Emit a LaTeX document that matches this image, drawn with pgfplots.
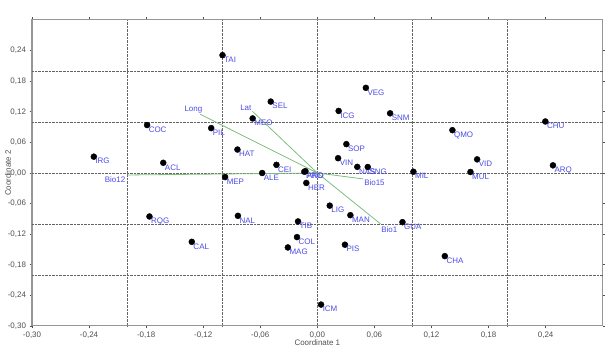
\documentclass[border=0pt]{standalone}
\usepackage{fontspec}
\setmainfont{Liberation Sans}
\usepackage{pgfplots}
\usepackage{pgfplotstable}
\pgfplotsset{compat=1.18}
\usetikzlibrary{calc}
\definecolor{lblue}{RGB}{75,75,230}
\definecolor{vgreen}{RGB}{125,190,125}
\definecolor{gridgray}{RGB}{100,100,100}
\definecolor{framegray}{RGB}{150,150,150}
\definecolor{tickgray}{RGB}{80,80,80}
\tikzset{vlab/.style={text=lblue, font=\fontsize{8}{9.5}\selectfont, inner sep=0.5bp}}

\pgfplotstableread{
x y label
-0.235 0.032 IRG
-0.179 0.094 COC
-0.0997 0.231 TAI
-0.049 0.140 SEL
-0.068 0.107 MEO
-0.1116 0.088 PIL
-0.084 0.046 HAT
-0.162 0.020 ACL
-0.043 0.016 CEI
-0.058 0.000 ALE
-0.0137 0.0025 PRO
-0.0125 0.0035 AND
-0.097 -0.008 MEP
-0.0116 -0.0195 HER
-0.1765 -0.0853 RQG
-0.0835 -0.084 NAL
-0.0203 -0.095 TIB
-0.132 -0.135 CAL
-0.0214 -0.1257 COL
-0.031 -0.146 MAG
0.051 0.167 VEG
0.0224 0.1217 ICG
0.0765 0.117 SNM
0.0305 0.0566 SOP
0.0218 0.029 VIN
0.042 0.012 NAS
0.053 0.0117 SNG
0.101 0.0025 MIL
0.142 0.084 QMO
0.2397 0.101 CHU
0.168 0.0267 VID
0.161 0.002 MUL
0.2477 0.015 ARQ
0.013 -0.064 LIG
0.0347 -0.0827 MAN
0.0895 -0.0964 GUA
0.029 -0.1406 PIS
0.0039 -0.258 ICM
0.134 -0.163 CHA
}\pts

\begin{document}
\begin{tikzpicture}
\begin{axis}[
  scale only axis, width=570.7bp, height=306bp,
  xmin=-0.30, xmax=0.30, ymin=-0.30, ymax=0.30,
  xtick={-0.30,-0.24,-0.18,-0.12,-0.06,0,0.06,0.12,0.18,0.24},
  ytick={-0.30,-0.24,-0.18,-0.12,-0.06,0,0.06,0.12,0.18,0.24},
  extra x ticks={-0.2,-0.1,0,0.1,0.2},
  extra y ticks={-0.2,-0.1,0,0.1,0.2},
  extra x tick labels={}, extra y tick labels={},
  extra tick style={grid=major, major grid style={densely dotted, gridgray, line width=0.9bp}, major tick length=0pt},
  axis line style={framegray, line width=1bp},
  tick style={tickgray, line width=0.6bp},
  tick align=outside, major tick length=2.5bp,
  ticklabel style={font=\fontsize{8}{9.5}\selectfont, text=tickgray},
  /pgf/number format/fixed, /pgf/number format/fixed zerofill,
  /pgf/number format/precision=2, /pgf/number format/use comma,
  /pgf/number format/assume math mode=true,
  xlabel={Coordinate 1}, ylabel={Coordinate 2},
  label style={font=\fontsize{8}{9.5}\selectfont, text=tickgray},
  xlabel style={at={(axis description cs:0.5,-0.056)}, anchor=center},
  ylabel style={at={(axis description cs:-0.042,0.5)}, anchor=center},
]
\addplot[vgreen, line width=0.8bp] coordinates {(0,0) (-0.1232,0.1152)} node[pos=1, anchor=south east, vlab, xshift=3bp] {Long};
\addplot[vgreen, line width=0.8bp] coordinates {(0,0) (-0.0684,0.1211)} node[pos=1, anchor=south east, vlab] {Lat};
\addplot[vgreen, line width=0.8bp] coordinates {(0,0) (-0.200,-0.0039)} node[pos=1, anchor=north east, vlab, xshift=-1bp, yshift=-1bp] {Bio12};
\addplot[vgreen, line width=0.8bp] coordinates {(0,0) (0.0484,-0.0117)} node[pos=1, anchor=north west, vlab] {Bio15};
\addplot[vgreen, line width=0.8bp] coordinates {(0,0) (0.0663,-0.0996)} node[pos=1, anchor=north west, vlab, yshift=-2bp] {Bio1};
\addplot[only marks, mark=*, mark size=3bp, black,
  point meta=explicit symbolic, nodes near coords,
  every node near coord/.append style={anchor=north west, inner sep=0pt, xshift=1.5bp, yshift=-1.5bp, text=lblue, font=\fontsize{8}{9.5}\selectfont}]
  table[x=x, y=y, meta=label] {\pts};
\end{axis}
\path ($(current axis.south west)+(-32bp,-32bp)$) rectangle ($(current axis.north east)+(11.3bp,20bp)$);
\end{tikzpicture}
\end{document}
